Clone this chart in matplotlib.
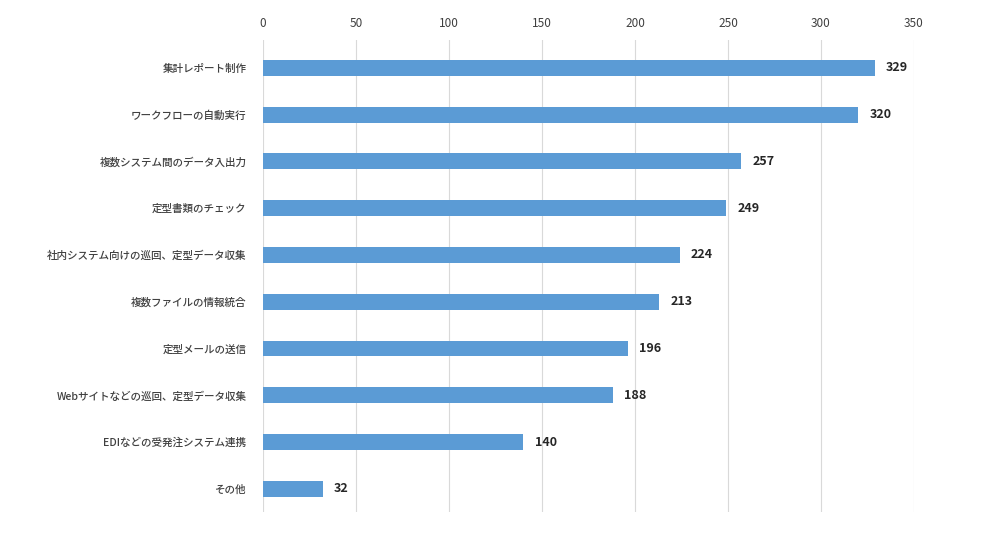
import matplotlib.pyplot as plt

plt.rcParams['font.family'] = ['Noto Sans CJK JP', 'DejaVu Sans']

categories = ["集計レポート制作", "ワークフローの自動実行", "複数システム間のデータ入出力",
              "定型書類のチェック", "社内システム向けの巡回、定型データ収集", "複数ファイルの情報統合",
              "定型メールの送信", "Webサイトなどの巡回、定型データ収集", "EDIなどの受発注システム連携", "その他"]
values = [329, 320, 257, 249, 224, 213, 196, 188, 140, 32]
xticks = [0, 50, 100, 150, 200, 250, 300, 350]

fig = plt.figure(figsize=(10, 5.38), dpi=100)
ax = fig.add_axes([0.263, 0.048, 0.651, 0.878])

pos = list(range(len(categories)))
ax.barh(pos, values, height=0.34, color="#5b9bd5", zorder=2)
for p, v in zip(pos, values):
    ax.text(v + 6, p, str(v), va="center", ha="left", fontsize=9, color="#262626", fontweight="bold")

ax.set_xlim(0, 350)
ax.set_ylim(9.5, -0.6)
ax.set_xticks(xticks)
ax.set_yticks(pos)
ax.set_yticklabels(categories, fontsize=7.6, fontweight="medium")
ax.xaxis.tick_top()
ax.grid(axis="x", color="#d9d9d9", linewidth=0.8, zorder=0)
for s in ax.spines.values():
    s.set_visible(False)
ax.tick_params(axis="both", length=0, colors="#404040")
ax.tick_params(axis="x", pad=7, labelsize=8.5)
ax.tick_params(axis="y", pad=12)

fig.savefig("out.png", dpi=100)
